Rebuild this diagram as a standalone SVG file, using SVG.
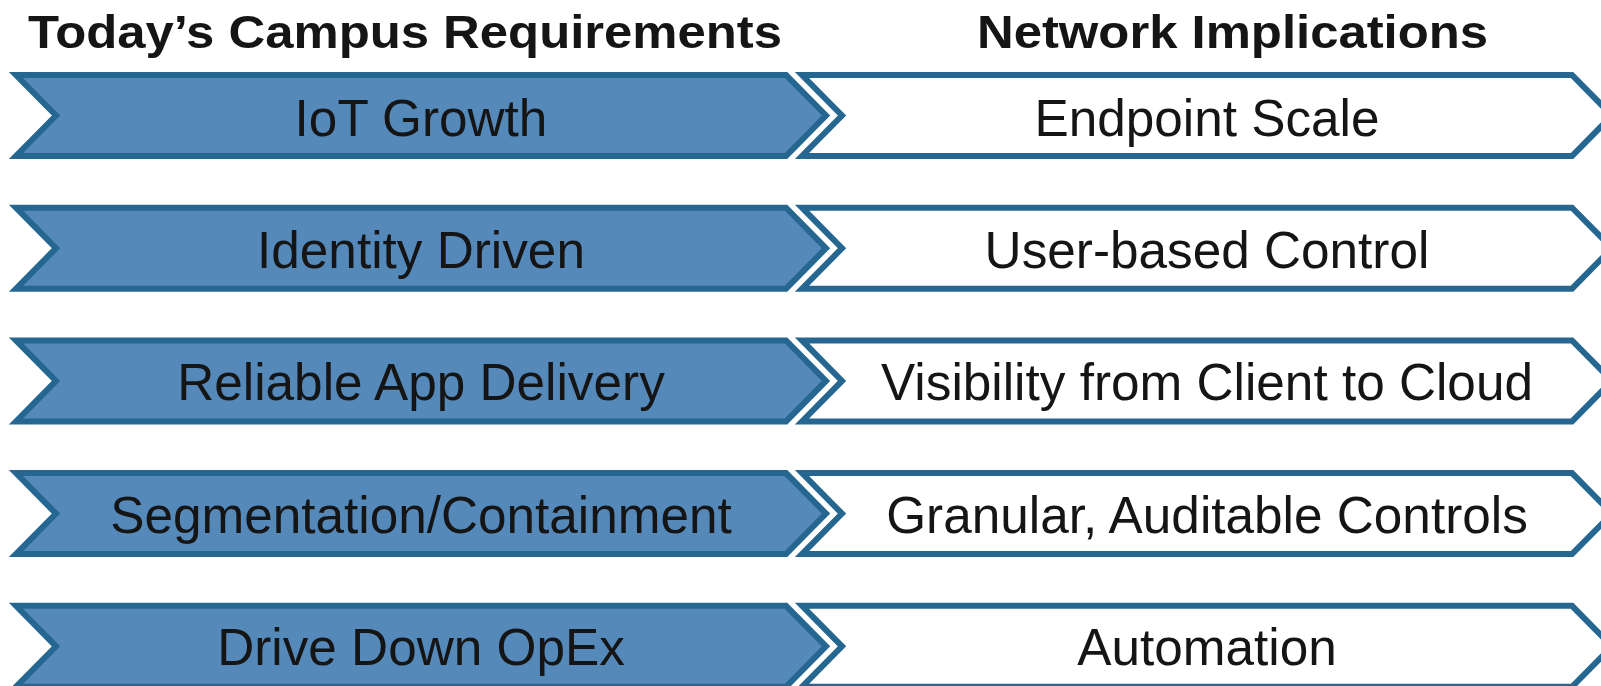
<svg xmlns="http://www.w3.org/2000/svg" width="1601" height="686" viewBox="0 0 1601 686">
  <style>
    .hdr { font-family: "Liberation Sans", Arial, sans-serif; font-weight: bold; font-size: 46px; fill: #151515; text-anchor: middle; }
    .lbl { font-family: "Liberation Sans", Arial, sans-serif; font-size: 51.3px; fill: #151515; text-anchor: middle; }
    .req { fill: #5589BA; stroke: #256790; stroke-width: 6; stroke-linejoin: miter; stroke-miterlimit: 10; }
    .imp { fill: #FFFFFF; stroke: #256790; stroke-width: 6; stroke-linejoin: miter; stroke-miterlimit: 10; }
  </style>
  <defs>
    <!-- chevron banners, drawn for the first row; later rows are translated copies -->
    <path id="reqShape" d="M16,75 H786 L826,115.5 L786,156 H16 L56,115.5 Z"/>
    <path id="impShape" d="M802,75 H1572 L1612,115.5 L1572,156 H802 L842,115.5 Z"/>
  </defs>
  <rect width="1601" height="686" fill="#FFFFFF"/>

  <!-- column headings (slightly widened bold face) -->
  <text class="hdr" transform="translate(405,47.8) scale(1.105,1)">Today’s Campus Requirements</text>
  <text class="hdr" transform="translate(1232.5,47.8) scale(1.105,1)">Network Implications</text>

  <!-- connectors: none, each row is a pair of adjoining chevrons -->
  <g id="connectors"/>

  <!-- row 1 -->
  <g id="req-iot" transform="translate(0,0)">
    <use href="#reqShape" class="req"/>
    <text class="lbl" x="421" y="135.5">IoT Growth</text>
  </g>
  <g id="imp-endpoint" transform="translate(0,0)">
    <use href="#impShape" class="imp"/>
    <text class="lbl" x="1207" y="135.5">Endpoint Scale</text>
  </g>

  <!-- row 2 -->
  <g id="req-identity" transform="translate(0,132.7)">
    <use href="#reqShape" class="req"/>
    <text class="lbl" x="421" y="135">Identity Driven</text>
  </g>
  <g id="imp-user" transform="translate(0,132.7)">
    <use href="#impShape" class="imp"/>
    <text class="lbl" x="1207" y="135">User-based Control</text>
  </g>

  <!-- row 3 -->
  <g id="req-app" transform="translate(0,265.4)">
    <use href="#reqShape" class="req"/>
    <text class="lbl" x="421" y="134.5">Reliable App Delivery</text>
  </g>
  <g id="imp-visibility" transform="translate(0,265.4)">
    <use href="#impShape" class="imp"/>
    <text class="lbl" x="1207" y="134.5">Visibility from Client to Cloud</text>
  </g>

  <!-- row 4 -->
  <g id="req-segmentation" transform="translate(0,398.1)">
    <use href="#reqShape" class="req"/>
    <text class="lbl" x="421" y="134.5">Segmentation/Containment</text>
  </g>
  <g id="imp-granular" transform="translate(0,398.1)">
    <use href="#impShape" class="imp"/>
    <text class="lbl" x="1207" y="134.5">Granular, Auditable Controls</text>
  </g>

  <!-- row 5 -->
  <g id="req-opex" transform="translate(0,530.8)">
    <use href="#reqShape" class="req"/>
    <text class="lbl" x="421" y="134.5">Drive Down OpEx</text>
  </g>
  <g id="imp-automation" transform="translate(0,530.8)">
    <use href="#impShape" class="imp"/>
    <text class="lbl" x="1207" y="134.5">Automation</text>
  </g>
</svg>
